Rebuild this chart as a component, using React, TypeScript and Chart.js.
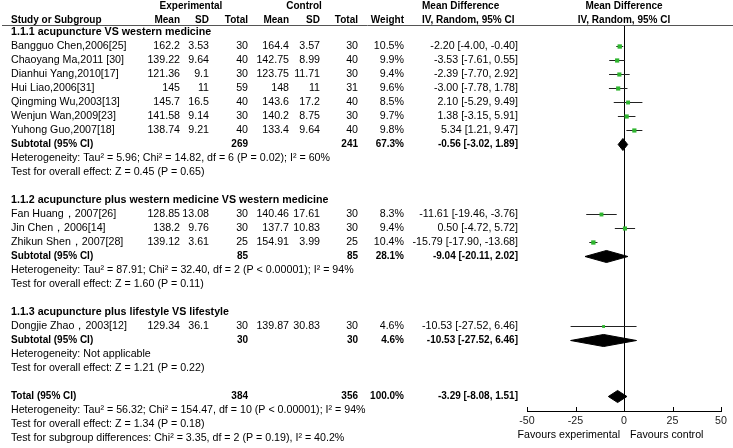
import React, { useEffect, useRef } from "react";
import { Chart, registerables } from "chart.js";

Chart.register(...registerables);

// ---------- data ----------
const studyNames = [
  "Bangguo Chen,2006[25]",
  "Chaoyang Ma,2011 [30]",
  "Dianhui Yang,2010[17]",
  "Hui Liao,2006[31]",
  "Qingming Wu,2003[13]",
  "Wenjun Wan,2009[23]",
  "Yuhong Guo,2007[18]",
  "Fan Huang，2007[26]",
  "Jin Chen，2006[14]",
  "Zhikun Shen，2007[28]",
  "Dongjie Zhao，2003[12]",
];
const studyGroup = [0, 0, 0, 0, 0, 0, 0, 1, 1, 1, 2];
const expMean = [162.2, 139.22, 121.36, 145, 145.7, 141.58, 138.74, 128.85, 138.2, 139.12, 129.34];
const expSD = [3.53, 9.64, 9.1, 11, 16.5, 9.14, 9.21, 13.08, 9.76, 3.61, 36.1];
const expN = [30, 40, 30, 59, 40, 30, 40, 30, 30, 25, 30];
const ctlMean = [164.4, 142.75, 123.75, 148, 143.6, 140.2, 133.4, 140.46, 137.7, 154.91, 139.87];
const ctlSD = [3.57, 8.99, 11.71, 11, 17.2, 8.75, 9.64, 17.61, 10.83, 3.99, 30.83];
const ctlN = [30, 40, 30, 31, 40, 30, 40, 30, 30, 25, 30];
const studyWeight = [10.5, 9.9, 9.4, 9.6, 8.5, 9.7, 9.8, 8.3, 9.4, 10.4, 4.6];
const studyMD = [-2.2, -3.53, -2.39, -3.0, 2.1, 1.38, 5.34, -11.61, 0.5, -15.79, -10.53];
const studyLo = [-4.0, -7.61, -7.7, -7.78, -5.29, -3.15, 1.21, -19.46, -4.72, -17.9, -27.52];
const studyHi = [-0.4, 0.55, 2.92, 1.78, 9.49, 5.91, 9.47, -3.76, 5.72, -13.68, 6.46];

const groupTitles = [
  "1.1.1 acupuncture VS western medicine",
  "1.1.2 acupuncture plus western medicine VS western medicine",
  "1.1.3 acupuncture plus lifestyle VS lifestyle",
];
const groupExpN = [269, 85, 30];
const groupCtlN = [241, 85, 30];
const groupWeight = [67.3, 28.1, 4.6];
const groupMD = [-0.56, -9.04, -10.53];
const groupLo = [-3.02, -20.11, -27.52];
const groupHi = [1.89, 2.02, 6.46];
const groupHet = [
  "Heterogeneity: Tau² = 5.96; Chi² = 14.82, df = 6 (P = 0.02); I² = 60%",
  "Heterogeneity: Tau² = 87.91; Chi² = 32.40, df = 2 (P < 0.00001); I² = 94%",
  "Heterogeneity: Not applicable",
];
const groupTest = [
  "Test for overall effect: Z = 0.45 (P = 0.65)",
  "Test for overall effect: Z = 1.60 (P = 0.11)",
  "Test for overall effect: Z = 1.21 (P = 0.22)",
];

const totalExpN = 384;
const totalCtlN = 356;
const totalWeight = 100.0;
const totalMD = -3.29;
const totalLo = -8.08;
const totalHi = 1.51;
const totalNotes = [
  "Heterogeneity: Tau² = 56.32; Chi² = 154.47, df = 10 (P < 0.00001); I² = 94%",
  "Test for overall effect: Z = 1.34 (P = 0.18)",
  "Test for subgroup differences: Chi² = 3.35, df = 2 (P = 0.19), I² = 40.2%",
];

const xTicks = [-50, -25, 0, 25, 50];
const favoursLeft = "Favours experimental";
const favoursRight = "Favours control";

// ---------- row layout ----------
const studyRow: number[] = [];
const titleRow: number[] = [];
const subRow: number[] = [];
const hetRow: number[] = [];
const testRow: number[] = [];
let rr = 2;
for (let g = 0; g < groupTitles.length; g++) {
  titleRow[g] = rr++;
  studyNames.forEach((_, i) => {
    if (studyGroup[i] === g) studyRow[i] = rr++;
  });
  subRow[g] = rr++;
  hetRow[g] = rr++;
  testRow[g] = rr++;
  rr++;
}
const totalRow = rr;

const FAMILY = '"Liberation Sans", Arial, Helvetica, sans-serif';
const F_REG = `10.67px ${FAMILY}`;
const F_TITLE = `bold 10.67px ${FAMILY}`;
const F_BOLD = `bold 10px ${FAMILY}`;

const ciText = (m: number, l: number, h: number) =>
  `${m.toFixed(2)} [${l.toFixed(2)}, ${h.toFixed(2)}]`;

const COL = {
  name: 11,
  eMean: 180,
  eSD: 209,
  eN: 248,
  cMean: 289,
  cSD: 320,
  cN: 358,
  weight: 404,
  ci: 518,
  ciHead: 422,
};

const tablePlugin = {
  id: "forestTable",
  afterDraw(chart: any) {
    const ctx: CanvasRenderingContext2D = chart.ctx;
    const ys = chart.scales.y;
    const xs = chart.scales.x;
    const area = chart.chartArea;
    const py = (r: number) => ys.getPixelForValue(r);
    ctx.save();
    ctx.textBaseline = "middle";
    ctx.fillStyle = "#000";
    const t = (s: string, x: number, y: number, align: CanvasTextAlign, font: string) => {
      ctx.font = font;
      ctx.textAlign = align;
      ctx.fillText(s, x, y);
    };

    // header
    const h0 = py(0.1);
    const h1 = py(1.1);
    t("Experimental", 191, h0, "center", F_BOLD);
    t("Control", 304, h0, "center", F_BOLD);
    t("Mean Difference", COL.ciHead, h0, "left", F_BOLD);
    t("Mean Difference", xs.getPixelForValue(0), h0, "center", F_BOLD);
    t("Study or Subgroup", COL.name, h1, "left", F_BOLD);
    t("Mean", COL.eMean, h1, "right", F_BOLD);
    t("SD", COL.eSD, h1, "right", F_BOLD);
    t("Total", COL.eN, h1, "right", F_BOLD);
    t("Mean", COL.cMean, h1, "right", F_BOLD);
    t("SD", COL.cSD, h1, "right", F_BOLD);
    t("Total", COL.cN, h1, "right", F_BOLD);
    t("Weight", COL.weight, h1, "right", F_BOLD);
    t("IV, Random, 95% CI", COL.ciHead, h1, "left", F_BOLD);
    t("IV, Random, 95% CI", xs.getPixelForValue(0), h1, "center", F_BOLD);

    // header rule
    ctx.strokeStyle = "#555";
    ctx.lineWidth = 1;
    ctx.beginPath();
    ctx.moveTo(2, Math.round(area.top) + 0.5);
    ctx.lineTo(733, Math.round(area.top) + 0.5);
    ctx.stroke();

    // groups
    for (let g = 0; g < groupTitles.length; g++) {
      t(groupTitles[g], COL.name, py(titleRow[g]), "left", F_TITLE);
      const sy = py(subRow[g]);
      t("Subtotal (95% CI)", COL.name, sy, "left", F_BOLD);
      t(String(groupExpN[g]), COL.eN, sy, "right", F_BOLD);
      t(String(groupCtlN[g]), COL.cN, sy, "right", F_BOLD);
      t(groupWeight[g].toFixed(1) + "%", COL.weight, sy, "right", F_BOLD);
      t(ciText(groupMD[g], groupLo[g], groupHi[g]), COL.ci, sy, "right", F_BOLD);
      t(groupHet[g], COL.name, py(hetRow[g]), "left", F_REG);
      t(groupTest[g], COL.name, py(testRow[g]), "left", F_REG);
    }

    // studies
    studyNames.forEach((n, i) => {
      const y = py(studyRow[i]);
      t(n, COL.name, y, "left", F_REG);
      t(String(expMean[i]), COL.eMean, y, "right", F_REG);
      t(String(expSD[i]), COL.eSD, y, "right", F_REG);
      t(String(expN[i]), COL.eN, y, "right", F_REG);
      t(String(ctlMean[i]), COL.cMean, y, "right", F_REG);
      t(String(ctlSD[i]), COL.cSD, y, "right", F_REG);
      t(String(ctlN[i]), COL.cN, y, "right", F_REG);
      t(studyWeight[i].toFixed(1) + "%", COL.weight, y, "right", F_REG);
      t(ciText(studyMD[i], studyLo[i], studyHi[i]), COL.ci, y, "right", F_REG);
    });

    // total
    const ty = py(totalRow);
    t("Total (95% CI)", COL.name, ty, "left", F_BOLD);
    t(String(totalExpN), COL.eN, ty, "right", F_BOLD);
    t(String(totalCtlN), COL.cN, ty, "right", F_BOLD);
    t(totalWeight.toFixed(1) + "%", COL.weight, ty, "right", F_BOLD);
    t(ciText(totalMD, totalLo, totalHi), COL.ci, ty, "right", F_BOLD);
    totalNotes.forEach((s, k) => t(s, COL.name, py(totalRow + 1 + k), "left", F_REG));

    // upward tick marks on the axis
    ctx.strokeStyle = "#000";
    ctx.beginPath();
    const by = Math.round(area.bottom);
    xTicks.forEach((v) => {
      const px = Math.round(xs.getPixelForValue(v)) + 0.5;
      ctx.moveTo(px, by);
      ctx.lineTo(px, by - 4);
    });
    ctx.stroke();

    // favours labels
    const fy = by + 24;
    const zx = xs.getPixelForValue(0);
    t(favoursLeft, zx - 4, fy, "right", F_REG);
    t(favoursRight, zx + 6, fy, "left", F_REG);
    ctx.restore();
  },
};

const diamond = (m: number, l: number, h: number, r: number) => [
  { x: l, y: r },
  { x: m, y: r - 0.43 },
  { x: h, y: r },
  { x: m, y: r + 0.43 },
  { x: l, y: r },
];

export default function App() {
  const ref = useRef<HTMLCanvasElement | null>(null);
  useEffect(() => {
    document.body.style.margin = "0";
    if (!ref.current) return;

    const ciData: any[] = [];
    studyNames.forEach((_, i) => {
      ciData.push({ x: studyLo[i], y: studyRow[i] });
      ciData.push({ x: studyHi[i], y: studyRow[i] });
      ciData.push({ x: null, y: null });
    });

    const diamonds = groupTitles.map((_, g) => ({
      type: "line" as const,
      data: diamond(groupMD[g], groupLo[g], groupHi[g], subRow[g]),
      borderColor: "#000",
      backgroundColor: "#000",
      borderWidth: 1,
      pointRadius: 0,
      fill: "shape" as any,
      order: 1,
    }));
    diamonds.push({
      type: "line" as const,
      data: diamond(totalMD, totalLo, totalHi, totalRow),
      borderColor: "#000",
      backgroundColor: "#000",
      borderWidth: 1,
      pointRadius: 0,
      fill: "shape" as any,
      order: 1,
    });

    const chart = new Chart(ref.current, {
      type: "scatter",
      data: {
        datasets: [
          {
            type: "scatter",
            data: studyNames.map((_, i) => ({ x: studyMD[i], y: studyRow[i] })),
            pointStyle: "rect",
            pointRadius: studyWeight.map((w) => 0.95 * Math.sqrt(w)),
            pointBackgroundColor: "#2fb52f",
            pointBorderWidth: 0,
            order: 0,
          } as any,
          {
            type: "line",
            data: ciData,
            borderColor: "#222",
            borderWidth: 1,
            pointRadius: 0,
            spanGaps: false,
            fill: false,
            order: 2,
          } as any,
          ...(diamonds as any[]),
        ],
      },
      plugins: [tablePlugin],
      options: {
        responsive: false,
        maintainAspectRatio: false,
        animation: false,
        events: [],
        layout: { padding: { left: 527, right: 12, top: 25, bottom: 19 } },
        plugins: { legend: { display: false }, tooltip: { enabled: false } },
        scales: {
          x: {
            type: "linear",
            min: -50,
            max: 50,
            afterBuildTicks: (s: any) => {
              s.ticks = xTicks.map((v) => ({ value: v }));
            },
            afterFit: (s: any) => {
              s.height = 18;
            },
            grid: {
              drawOnChartArea: true,
              drawTicks: false,
              lineWidth: 1,
              color: (c: any) => (c.tick && c.tick.value === 0 ? "#000" : "rgba(0,0,0,0)"),
            },
            border: { display: true, color: "#000", width: 1 },
            ticks: {
              padding: 4,
              color: "#222",
              autoSkip: false,
              maxRotation: 0,
              font: { family: FAMILY, size: 10.67 },
            },
          },
          y: {
            type: "linear",
            reverse: true,
            min: 20.5 / 14,
            max: 406.5 / 14,
            display: false,
          },
        },
      } as any,
    });
    return () => chart.destroy();
  }, []);

  return (
    <div style={{ width: 733, height: 448, background: "#fff" }}>
      <canvas ref={ref} width={733} height={448} style={{ display: "block" }} />
    </div>
  );
}
